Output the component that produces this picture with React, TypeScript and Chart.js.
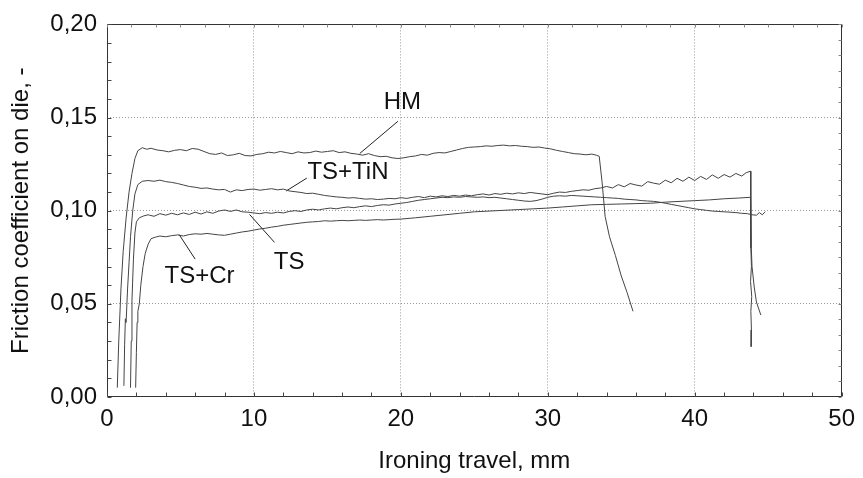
import React, { useEffect, useRef } from "react";
import { Chart, registerables } from "chart.js";

Chart.register(...registerables);

// ---------- data ----------
const hmX = [0.7, 0.8, 0.95, 1.1, 1.3, 1.5, 1.7, 1.9, 2.1, 2.4, 2.7, 3.0, 3.4, 3.8, 4.2, 4.6, 5.0, 5.4, 5.8, 6.2, 6.6, 7.0, 7.4, 7.8, 8.2, 8.6, 9.0, 9.4, 9.8, 10.2, 10.6, 11.0, 11.4, 11.8, 12.2, 12.6, 13.0, 13.4, 13.8, 14.2, 14.6, 15.0, 15.4, 15.8, 16.2, 16.6, 17.0, 17.4, 17.8, 18.2, 18.6, 19.0, 19.4, 19.8, 20.2, 20.6, 21.0, 21.4, 21.8, 22.2, 22.6, 23.0, 23.4, 23.8, 24.2, 24.6, 25.0, 25.4, 25.8, 26.2, 26.6, 27.0, 27.4, 27.8, 28.2, 28.6, 29.0, 29.4, 29.8, 30.2, 30.6, 31.0, 31.4, 31.8, 32.2, 32.6, 33.0, 33.3, 33.5, 33.7, 33.9, 34.2, 34.6, 35.0, 35.4, 35.8];
const hmY = [0.005, 0.030, 0.058, 0.078, 0.096, 0.110, 0.120, 0.128, 0.1322, 0.1338, 0.1330, 0.1335, 0.1326, 0.1322, 0.1316, 0.1324, 0.1328, 0.1322, 0.1334, 0.1330, 0.1318, 0.1306, 0.1302, 0.1310, 0.1296, 0.1300, 0.1308, 0.1296, 0.1294, 0.1302, 0.1306, 0.1314, 0.1310, 0.1318, 0.1312, 0.1306, 0.1316, 0.1310, 0.1312, 0.1320, 0.1314, 0.1318, 0.1322, 0.1312, 0.1316, 0.1308, 0.1304, 0.1298, 0.1306, 0.1296, 0.1290, 0.1292, 0.1284, 0.1280, 0.1284, 0.1290, 0.1294, 0.1302, 0.1298, 0.1308, 0.1312, 0.1310, 0.1318, 0.1326, 0.1334, 0.1340, 0.1342, 0.1344, 0.1348, 0.1346, 0.1350, 0.1352, 0.1348, 0.1350, 0.1346, 0.1344, 0.1340, 0.1342, 0.1336, 0.1332, 0.1324, 0.1318, 0.1312, 0.1306, 0.1304, 0.1300, 0.1304, 0.1298, 0.1292, 0.1150, 0.0970, 0.0860, 0.0760, 0.0650, 0.0560, 0.0460];

const tinX = [1.15, 1.2, 1.25, 1.3, 1.4, 1.5, 1.6, 1.75, 1.9, 2.1, 2.4, 2.8, 3.2, 3.6, 4.0, 4.4, 4.8, 5.2, 5.6, 6.0, 6.4, 6.8, 7.2, 7.6, 8.0, 8.4, 8.8, 9.2, 9.6, 10.0, 10.4, 10.8, 11.2, 11.6, 12.0, 12.4, 12.8, 13.2, 13.6, 14.0, 14.4, 14.8, 15.2, 15.6, 16.0, 16.4, 16.8, 17.2, 17.6, 18.0, 18.4, 18.8, 19.2, 19.6, 20.0, 20.4, 20.8, 21.2, 21.6, 22.0, 22.4, 22.8, 23.2, 23.6, 24.0, 24.4, 24.8, 25.2, 25.6, 26.0, 26.4, 26.8, 27.2, 27.6, 28.0, 28.4, 28.8, 29.2, 29.6, 30.0, 30.4, 30.8, 31.2, 31.6, 32.0, 32.4, 32.8, 33.2, 33.6, 34.0, 34.4, 34.8, 35.2, 35.6, 36.0, 36.4, 36.8, 37.2, 37.6, 38.0, 38.4, 38.8, 39.2, 39.6, 40.0, 40.4, 40.8, 41.2, 41.6, 42.0, 42.4, 42.8, 43.2, 43.5, 43.8, 43.82, 43.86, 43.8, 43.88, 43.82, 43.86, 43.84];
const tinY = [0.006, 0.028, 0.042, 0.040, 0.058, 0.072, 0.086, 0.100, 0.109, 0.1140, 0.1158, 0.1162, 0.1158, 0.1164, 0.1156, 0.1152, 0.1146, 0.1138, 0.1130, 0.1126, 0.1120, 0.1122, 0.1116, 0.1112, 0.1114, 0.1100, 0.1112, 0.1108, 0.1114, 0.1116, 0.1110, 0.1114, 0.1118, 0.1112, 0.1116, 0.1106, 0.1102, 0.1098, 0.1092, 0.1094, 0.1088, 0.1082, 0.1078, 0.1074, 0.1072, 0.1068, 0.1070, 0.1066, 0.1062, 0.1064, 0.1060, 0.1062, 0.1066, 0.1064, 0.1070, 0.1066, 0.1072, 0.1076, 0.1070, 0.1078, 0.1074, 0.1080, 0.1076, 0.1082, 0.1078, 0.1084, 0.1080, 0.1086, 0.1090, 0.1084, 0.1092, 0.1088, 0.1094, 0.1090, 0.1096, 0.1092, 0.1098, 0.1094, 0.1090, 0.1086, 0.1094, 0.1100, 0.1098, 0.1104, 0.1108, 0.1112, 0.1110, 0.1118, 0.1122, 0.1130, 0.1122, 0.1140, 0.1128, 0.1146, 0.1138, 0.1132, 0.1156, 0.1148, 0.1142, 0.1164, 0.1150, 0.1174, 0.1158, 0.1180, 0.1162, 0.1184, 0.1168, 0.1192, 0.1174, 0.1194, 0.1180, 0.1200, 0.1186, 0.1204, 0.1212, 0.0800, 0.0700, 0.0620, 0.0540, 0.0460, 0.0360, 0.0270];

const tsX = [1.6, 1.65, 1.7, 1.8, 1.9, 2.0, 2.2, 2.5, 2.8, 3.2, 3.6, 4.0, 4.4, 4.8, 5.2, 5.6, 6.0, 6.4, 6.8, 7.2, 7.6, 8.0, 8.4, 8.8, 9.2, 9.6, 10.0, 10.4, 10.8, 11.2, 11.6, 12.0, 12.4, 12.8, 13.2, 13.6, 14.0, 14.4, 14.8, 15.2, 15.6, 16.0, 16.4, 16.8, 17.2, 17.6, 18.0, 18.4, 18.8, 19.2, 19.6, 20.0, 20.4, 20.8, 21.2, 21.6, 22.0, 22.4, 22.8, 23.2, 23.6, 24.0, 24.4, 24.8, 25.2, 25.6, 26.0, 26.4, 26.8, 27.2, 27.6, 28.0, 28.4, 28.8, 29.2, 29.6, 30.0, 30.4, 30.8, 31.2, 31.6, 32.0, 32.4, 32.8, 33.2, 33.6, 34.0, 34.4, 34.8, 35.2, 35.6, 36.0, 36.4, 36.8, 37.2, 37.6, 38.0, 38.4, 38.8, 39.2, 39.6, 40.0, 40.4, 40.8, 41.2, 41.6, 42.0, 42.4, 42.8, 43.2, 43.6, 43.9, 44.2, 44.4, 44.6, 44.8];
const tsY = [0.005, 0.030, 0.052, 0.074, 0.088, 0.094, 0.0962, 0.0972, 0.0978, 0.0970, 0.0984, 0.0976, 0.0986, 0.0978, 0.0988, 0.0980, 0.0992, 0.0982, 0.0994, 0.0986, 0.0998, 0.1004, 0.0996, 0.1004, 0.0994, 0.0992, 0.0988, 0.0984, 0.0990, 0.0986, 0.0992, 0.0988, 0.0996, 0.1000, 0.0996, 0.1004, 0.1008, 0.1004, 0.1010, 0.1014, 0.1010, 0.1016, 0.1020, 0.1016, 0.1022, 0.1026, 0.1022, 0.1028, 0.1032, 0.1030, 0.1036, 0.1040, 0.1044, 0.1050, 0.1056, 0.1060, 0.1064, 0.1068, 0.1072, 0.1070, 0.1074, 0.1072, 0.1076, 0.1074, 0.1072, 0.1074, 0.1070, 0.1072, 0.1068, 0.1064, 0.1060, 0.1056, 0.1052, 0.1050, 0.1054, 0.1062, 0.1072, 0.1078, 0.1080, 0.1078, 0.1082, 0.1080, 0.1078, 0.1076, 0.1074, 0.1072, 0.1070, 0.1068, 0.1066, 0.1062, 0.1060, 0.1058, 0.1054, 0.1052, 0.1050, 0.1046, 0.1040, 0.1034, 0.1028, 0.1022, 0.1016, 0.1010, 0.1006, 0.1002, 0.0998, 0.0996, 0.0994, 0.0992, 0.0990, 0.0986, 0.0984, 0.0978, 0.0976, 0.0990, 0.0978, 0.0995];

const crX = [1.95, 2.0, 2.05, 2.1, 2.2, 2.3, 2.45, 2.6, 2.8, 3.0, 3.3, 3.6, 4.0, 4.4, 4.8, 5.2, 5.6, 6.0, 6.4, 6.8, 7.2, 7.6, 8.0, 8.4, 8.8, 9.2, 9.6, 10.0, 10.4, 10.8, 11.2, 11.6, 12.0, 12.4, 12.8, 13.2, 13.6, 14.0, 14.4, 14.8, 15.2, 15.6, 16.0, 16.4, 16.8, 17.2, 17.6, 18.0, 18.4, 18.8, 19.2, 19.6, 20.0, 21.0, 22.0, 23.0, 24.0, 25.0, 26.0, 27.0, 28.0, 29.0, 30.0, 31.0, 32.0, 33.0, 34.0, 35.0, 36.0, 37.0, 38.0, 39.0, 40.0, 41.0, 42.0, 43.0, 43.8, 43.85, 43.9, 44.05, 44.2, 44.5];
const crY = [0.005, 0.024, 0.040, 0.046, 0.050, 0.060, 0.070, 0.077, 0.082, 0.0850, 0.0858, 0.0864, 0.0860, 0.0866, 0.0870, 0.0864, 0.0872, 0.0876, 0.0874, 0.0878, 0.0874, 0.0870, 0.0868, 0.0874, 0.0880, 0.0886, 0.0890, 0.0896, 0.0902, 0.0906, 0.0912, 0.0916, 0.0922, 0.0926, 0.0930, 0.0934, 0.0938, 0.0940, 0.0942, 0.0946, 0.0944, 0.0946, 0.0948, 0.0946, 0.0948, 0.0950, 0.0948, 0.0950, 0.0952, 0.0950, 0.0952, 0.0954, 0.0955, 0.0962, 0.0970, 0.0978, 0.0986, 0.0994, 0.0998, 0.1002, 0.1006, 0.1010, 0.1014, 0.1020, 0.1026, 0.1032, 0.1034, 0.1036, 0.1038, 0.1040, 0.1046, 0.1050, 0.1054, 0.1058, 0.1064, 0.1068, 0.1072, 0.0800, 0.0700, 0.0590, 0.0510, 0.0440];

// annotations
const seriesNames = ["HM", "TS+TiN", "TS", "TS+Cr"];
const labelX = [20.1, 16.4, 12.4, 6.3];
const labelY = [0.158, 0.1206, 0.072, 0.0646];
const leaderX1 = [19.8, 13.6, 11.4, 6.0];
const leaderY1 = [0.148, 0.1175, 0.083, 0.074];
const leaderX2 = [17.2, 12.2, 9.7, 4.9];
const leaderY2 = [0.1307, 0.1106, 0.098, 0.0873];

const xMin = 0, xMax = 50, xStep = 10, xMinorStep = 2;
const yMin = 0, yMax = 0.2, yStep = 0.05, yMinorStep = 0.01;
const topDivisions = 30;
const rightDivisions = 24;

const FONT = '"Liberation Sans", Arial, sans-serif';

function pts(xs: number[], ys: number[]) {
  return xs.map((x, i) => ({ x, y: ys[i] }));
}

const framePlugin = {
  id: "frame",
  afterDraw(chart: any) {
    const { ctx, chartArea: a, scales } = chart;
    const xs = scales.x, ys = scales.y;
    ctx.save();
    ctx.strokeStyle = "#333";
    ctx.lineWidth = 1;
    const L = Math.round(a.left) + 0.5, R = Math.round(a.right) - 0.5;
    const T = Math.round(a.top) + 0.5, B = Math.round(a.bottom) - 0.5;
    ctx.beginPath();
    ctx.rect(L, T, R - L, B - T);
    ctx.stroke();
    ctx.strokeStyle = "#444";
    ctx.beginPath();
    for (let v = xMin; v <= xMax + 1e-9; v += xMinorStep) {
      const p = Math.round(xs.getPixelForValue(v)) + 0.5;
      ctx.moveTo(p, B); ctx.lineTo(p, B - 4);
    }
    for (let i = 0; i <= Math.round((yMax - yMin) / yMinorStep); i++) {
      const p = Math.round(ys.getPixelForValue(yMin + i * yMinorStep)) + 0.5;
      ctx.moveTo(L, p); ctx.lineTo(L + 4, p);
    }
    ctx.stroke();
    ctx.strokeStyle = "#888";
    ctx.beginPath();
    for (let i = 0; i <= topDivisions; i++) {
      const p = Math.round(xs.getPixelForValue(xMin + (i * (xMax - xMin)) / topDivisions)) + 0.5;
      ctx.moveTo(p, T); ctx.lineTo(p, T + 3);
    }
    for (let i = 0; i <= rightDivisions; i++) {
      const p = Math.round(ys.getPixelForValue(yMin + (i * (yMax - yMin)) / rightDivisions)) + 0.5;
      ctx.moveTo(R, p); ctx.lineTo(R - 3, p);
    }
    ctx.stroke();
    ctx.fillStyle = "#111";
    ctx.font = `24px ${FONT}`;
    ctx.textAlign = "center";
    ctx.textBaseline = "middle";
    seriesNames.forEach((t, i) => {
      ctx.fillText(t, xs.getPixelForValue(labelX[i]), ys.getPixelForValue(labelY[i]));
    });
    ctx.restore();
  },
};

export default function App() {
  const ref = useRef<HTMLCanvasElement | null>(null);
  useEffect(() => {
    if (!ref.current) return;
    const lineColor = "#444";
    const series = [
      { label: "HM", data: pts(hmX, hmY) },
      { label: "TS+TiN", data: pts(tinX, tinY) },
      { label: "TS", data: pts(tsX, tsY) },
      { label: "TS+Cr", data: pts(crX, crY) },
    ].map((s) => ({
      ...s,
      showLine: true,
      borderColor: lineColor,
      borderWidth: 1,
      pointRadius: 0,
      tension: 0,
    }));
    const leaders = seriesNames.map((n, i) => ({
      label: n + " leader",
      data: [
        { x: leaderX1[i], y: leaderY1[i] },
        { x: leaderX2[i], y: leaderY2[i] },
      ],
      showLine: true,
      borderColor: "#222",
      borderWidth: 1,
      pointRadius: 0,
    }));
    const chart = new Chart(ref.current, {
      type: "scatter",
      data: { datasets: [...series, ...leaders] as any },
      options: {
        animation: false,
        responsive: false,
        devicePixelRatio: 1,
        layout: { padding: { left: 0, right: 16, top: 19, bottom: 0 } },
        plugins: { legend: { display: false }, tooltip: { enabled: false } },
        scales: {
          x: {
            type: "linear",
            min: xMin,
            max: xMax,
            afterFit: (s: any) => { s.height = 81; },
            ticks: {
              stepSize: xStep,
              color: "#111",
              font: { family: FONT, size: 24 },
              padding: 8,
              maxRotation: 0,
            },
            grid: {
              drawTicks: false,
              color: (c: any) => (c.tick && (c.tick.value === xMin || c.tick.value === xMax) ? "rgba(0,0,0,0)" : "#9a9a9a"),
              lineWidth: 1,
            },
            border: { display: false, dash: [1, 2] },
            title: {
              display: true,
              text: "Ironing travel, mm",
              color: "#111",
              font: { family: FONT, size: 24 },
              padding: { top: 0, bottom: 2 },
            },
          },
          y: {
            type: "linear",
            min: yMin,
            max: yMax,
            afterFit: (s: any) => { s.width = 107; },
            ticks: {
              stepSize: yStep,
              color: "#111",
              font: { family: FONT, size: 24 },
              padding: 10,
              callback: (v: any) => Number(v).toFixed(2).replace(".", ","),
            },
            grid: {
              drawTicks: false,
              color: (c: any) => (c.tick && (Math.abs(c.tick.value - yMin) < 1e-9 || Math.abs(c.tick.value - yMax) < 1e-9) ? "rgba(0,0,0,0)" : "#9a9a9a"),
              lineWidth: 1,
            },
            border: { display: false, dash: [1, 2] },
            title: {
              display: true,
              text: "Friction coefficient on die, -",
              color: "#111",
              font: { family: FONT, size: 24 },
              padding: { top: 7, bottom: 0 },
            },
          },
        },
      },
      plugins: [framePlugin],
    });
    return () => chart.destroy();
  }, []);
  return (
    <div style={{ position: "absolute", left: 0, top: 0, width: 863, height: 478, background: "#fff" }}>
      <canvas ref={ref} width={863} height={478} />
    </div>
  );
}
